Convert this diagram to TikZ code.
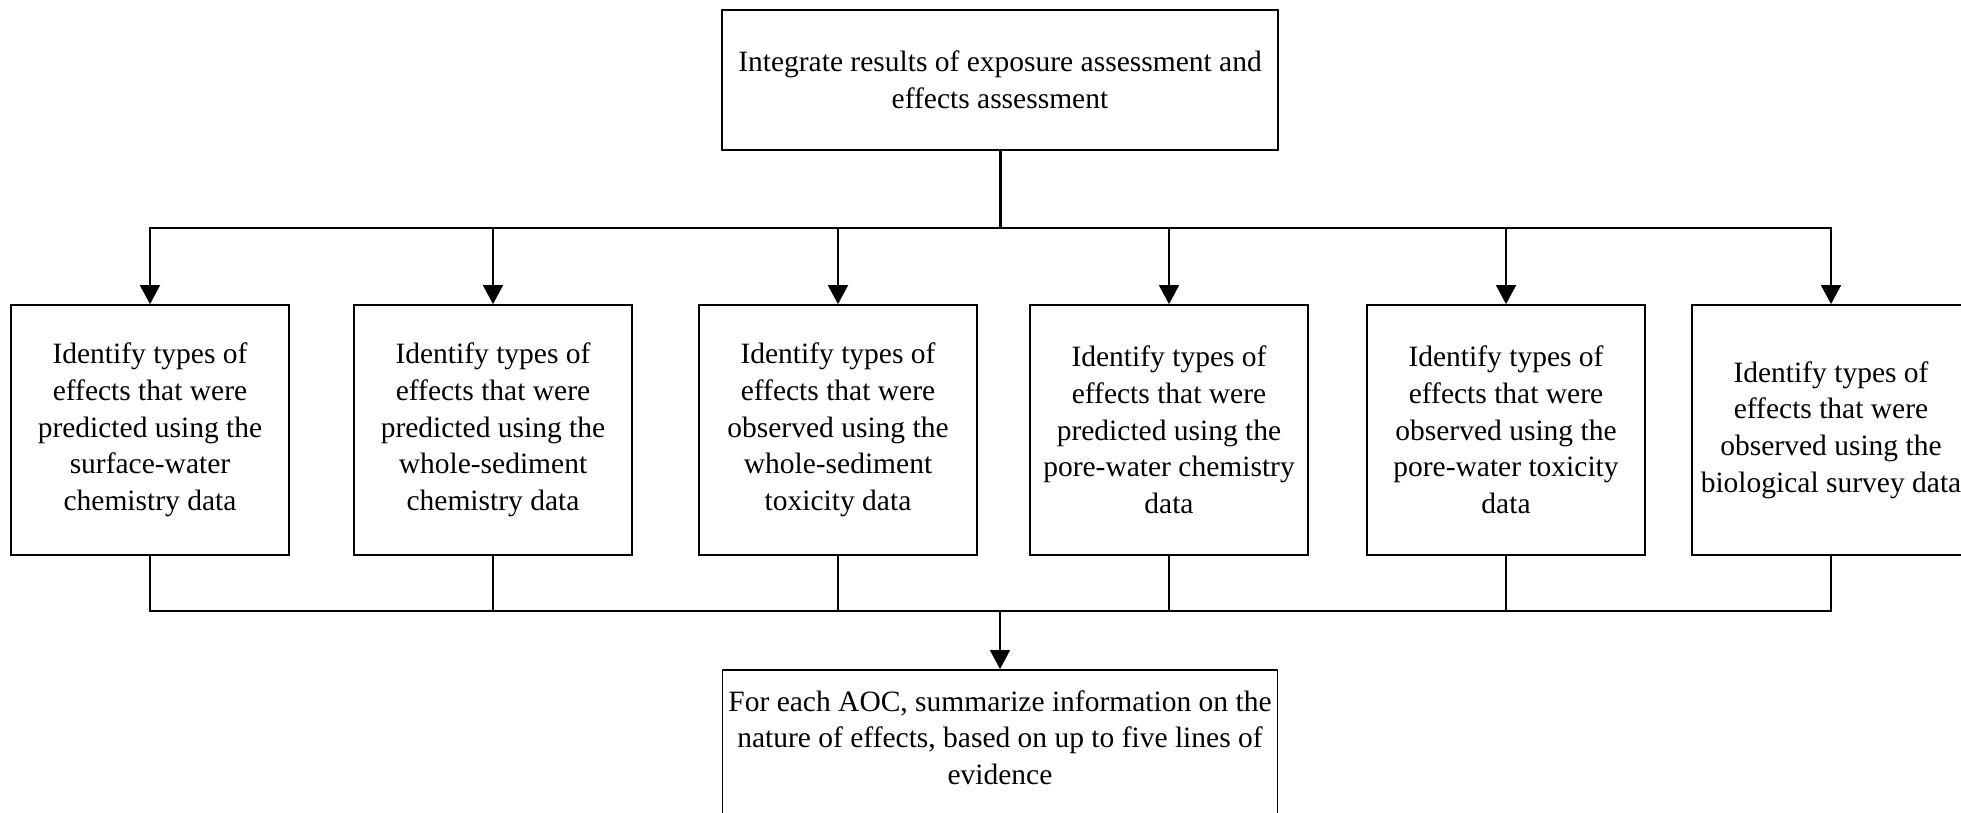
\documentclass[tikz,border=0pt]{standalone}
\usepackage{fontspec}
\setmainfont{Liberation Serif}
\usetikzlibrary{arrows.meta}
\begin{document}
\begin{tikzpicture}[x=1pt,y=-1pt,
  box/.style={draw,line width=1.8pt,align=center,inner sep=0pt,
    font=\fontsize{29.5}{36.7}\selectfont},
  mid/.style={box,minimum width=278pt,minimum height=250pt},
  conn/.style={line width=1.8pt},
  bus/.style={line width=2.4pt,line cap=rect},
  trunk/.style={line width=3pt},
  arr/.style={conn,-{Triangle[width=20pt,length=19pt]}}]
\useasboundingbox (0,0) rectangle (1961,813);
\clip (0,0) rectangle (1961,813);
\node[box,minimum width=556pt,minimum height=140pt] (top) at (1000,80)
  {Integrate results of exposure assessment and\\ effects assessment};
\node[mid] (b1) at (150,430) {Identify types of\\ effects that were\\ predicted using the\\ surface-water\\ chemistry data};
\node[mid] (b2) at (493,430) {Identify types of\\ effects that were\\ predicted using the\\ whole-sediment\\ chemistry data};
\node[mid] (b3) at (838,430) {Identify types of\\ effects that were\\ observed using the\\ whole-sediment\\ toxicity data};
\node[mid] (b4) at (1169,430) {Identify types of\\ effects that were\\ predicted using the\\ pore-water chemistry\\ data};
\node[mid] (b5) at (1506,430) {Identify types of\\ effects that were\\ observed using the\\ pore-water toxicity\\ data};
\node[mid] (b6) at (1831,430) {Identify types of\\ effects that were\\ observed using the\\ biological survey data};
\node[box,minimum width=555pt,minimum height=172pt,anchor=north] (bot) at (1000,669)
  {For each AOC, summarize information on the\\ nature of effects, based on up to five lines of\\ evidence\\ \mbox{}};
\coordinate (tb) at (1000,228);
\coordinate (bb) at (1000,611);
% top distribution
\draw[trunk] (top.south) -- (tb);
\draw[bus] (b1.north |- tb) -- (b6.north |- tb);
\foreach \n in {b1,b2,b3,b4,b5,b6}{
  \draw[arr] (\n.north |- tb) -- (\n.north);
}
% bottom collection
\foreach \n in {b1,b2,b3,b4,b5,b6}{
  \draw[conn] (\n.south) -- (\n.south |- bb);
}
\draw[bus] (b1.south |- bb) -- (b6.south |- bb);
\draw[arr] (bb) -- (bot.north);
\end{tikzpicture}
\end{document}
